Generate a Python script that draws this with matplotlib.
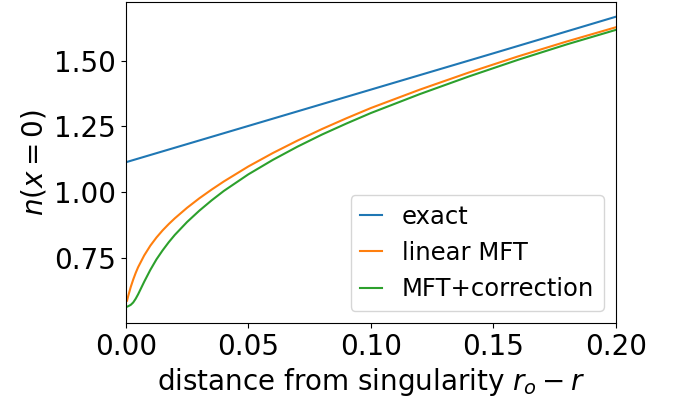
import matplotlib
matplotlib.use("Agg")
import matplotlib.pyplot as plt

# density at the centre vs distance from the singular point
r_exact = [0.0, 0.05, 0.10, 0.15, 0.20]
n_exact = [1.114, 1.252, 1.390, 1.528, 1.667]

r_mft = [0.0005, 0.001, 0.002, 0.003, 0.004, 0.005, 0.0075, 0.01, 0.0125, 0.015,
         0.0175, 0.02, 0.025, 0.03, 0.035, 0.04, 0.05, 0.06, 0.07, 0.08, 0.09,
         0.10, 0.12, 0.14, 0.16, 0.18, 0.20]
n_linear = [0.588, 0.607, 0.640, 0.668, 0.693, 0.715, 0.760, 0.797, 0.828, 0.855,
            0.879, 0.901, 0.941, 0.977, 1.010, 1.041, 1.098, 1.149, 1.196, 1.240,
            1.281, 1.320, 1.390, 1.455, 1.516, 1.573, 1.627]
n_corr = [0.565, 0.567, 0.572, 0.581, 0.595, 0.612, 0.660, 0.705, 0.745, 0.779,
          0.810, 0.838, 0.887, 0.930, 0.969, 1.005, 1.068, 1.123, 1.173, 1.219,
          1.261, 1.301, 1.373, 1.440, 1.503, 1.562, 1.617]

fig = plt.figure(figsize=(6.73, 4.03), dpi=100)
ax = fig.add_axes([0.187, 0.1985, 0.728, 0.7965])

ax.plot(r_exact, n_exact, label="exact")
ax.plot(r_mft, n_linear, label="linear MFT")
ax.plot(r_mft, n_corr, label="MFT+correction")

ax.set_xlim(0, 0.2)
ax.set_ylim(0.503, 1.723)
ax.set_xticks([0.0, 0.05, 0.10, 0.15, 0.20])
ax.set_yticks([0.75, 1.00, 1.25, 1.50])
ax.tick_params(labelsize=20)
ax.set_xlabel("distance from singularity $r_o - r$", fontsize=20)
ax.set_ylabel("$n(x=0)$", fontsize=20)
ax.legend(loc="lower right", fontsize=17.5, handlelength=0.9)

fig.savefig("out.png", dpi=100)
